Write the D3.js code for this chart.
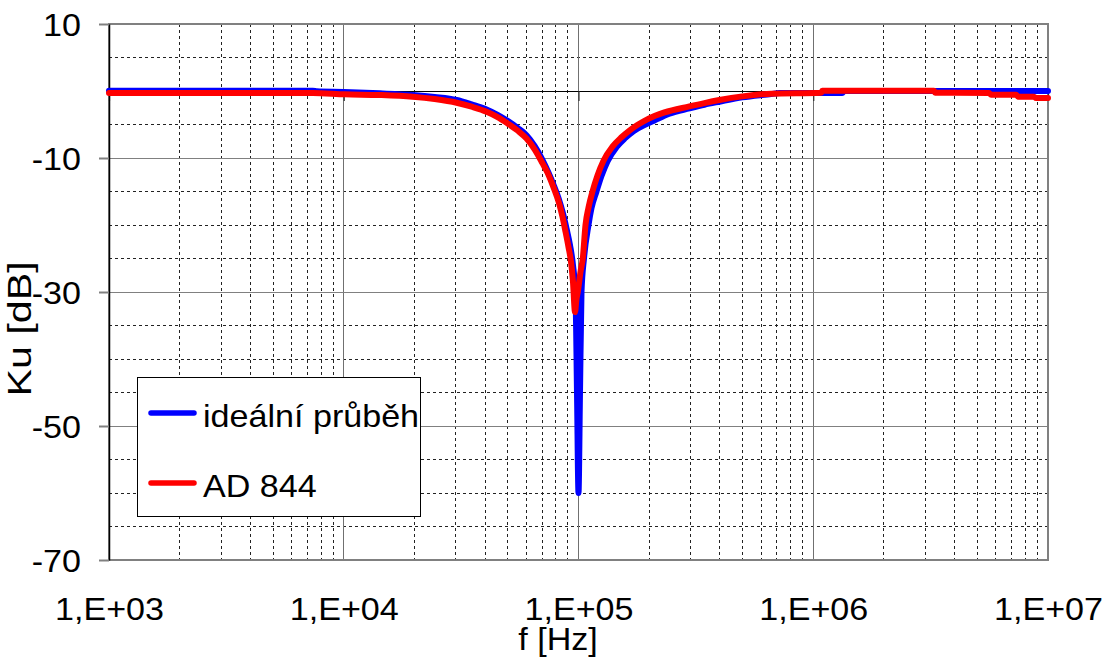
<!DOCTYPE html>
<html>
<head>
<meta charset="utf-8">
<script src="https://cdn.jsdelivr.net/npm/d3@7/dist/d3.min.js"></script>
<style>
  html, body { margin: 0; padding: 0; background: #fff; }
  svg { display: block; font-family: "Liberation Sans", Arial, sans-serif; }
</style>
</head>
<body>
<svg id="chart" width="1106" height="658"></svg>
<script>
// Frequency response of the notch filter: ideal curve vs. AD 844 measurement
const decadeTicks = [1e3, 1e4, 1e5, 1e6, 1e7];
const decadeLabels = ["1,E+03", "1,E+04", "1,E+05", "1,E+06", "1,E+07"];
const dbTicks = [10, -10, -30, -50, -70];
const seriesNames = ["ideální průběh", "AD 844"];

const idealFreq = [1000, 7380, 7680, 10000, 14230, 19660, 24390, 30260, 35050, 40600,
  45220, 49880, 55010, 60060, 65000, 70290, 74530, 78290, 82220, 85480,
  88890, 91990, 94750, 97100, 98540, 100000, 101480, 102990, 105530, 110300,
  113580, 119300, 125250, 132860, 145100, 158500, 171400, 190900, 210600, 243900,
  296760, 343800, 398110, 498800, 662700, 716700, 1081500, 1328700, 1355000, 10000000];
const idealDb = [0.05, 0.05, -0.05, -0.15, -0.35, -0.6, -0.9, -1.35, -2.0, -2.75,
  -3.55, -4.45, -5.5, -6.6, -8.2, -10.3, -12.2, -14.0, -16.0, -18.0,
  -20.5, -23, -26, -30.5, -45, -60, -45, -30, -25, -20,
  -17.5, -15, -12.7, -10.5, -8.4, -7.0, -6.0, -5.1, -4.4, -3.4,
  -2.6, -2.05, -1.6, -0.95, -0.45, -0.3, -0.3, -0.3, 0, 0];

const adFreq = [1000, 7380, 10100, 14230, 19660, 24390, 30260, 35050, 40600, 45220,
  49880, 55010, 60060, 65000, 70290, 73810, 77530, 80620, 83030, 85480,
  88050, 90660, 92910, 94750, 96630, 98060, 99310, 101980, 104300, 107100,
  110300, 114700, 120470, 127770, 139540, 152410, 164800, 178780, 197170, 232300,
  296760, 343800, 398110, 498800, 662700, 1081500, 1092000, 3272000, 3304000, 5609000,
  5721000, 7309000, 7455000, 8719000, 8889000, 10000000];
const adDb = [-0.3, -0.3, -0.5, -0.6, -0.85, -1.2, -1.75, -2.35, -3.1, -3.9,
  -4.85, -5.9, -7.1, -8.7, -10.8, -12.2, -14.0, -15.6, -17.0, -18.8,
  -21, -23.3, -25.5, -28.5, -33, -31, -30, -27, -25, -20,
  -17.4, -15, -12.6, -10.4, -8.3, -6.9, -5.9, -5.05, -4.2, -3.2,
  -2.3, -1.8, -1.35, -0.8, -0.4, -0.25, 0.03, 0.03, -0.25, -0.3,
  -0.55, -0.55, -0.85, -0.85, -1.05, -1.05];

const L = 109, R = 1048, T = 24, B = 560;
const FONT = 31, SX = 1.1;

const svg = d3.select("#chart");
const x = d3.scaleLog().domain([1e3, 1e7]).range([L, R]);
const y = d3.scaleLinear().domain([-70, 10]).range([B, T]);

// minor grid (dashed)
const minorF = [];
decadeTicks.slice(0, -1).forEach(d => { for (let k = 2; k <= 9; k++) minorF.push(k * d); });
const minorDb = d3.range(-65, 10, 5).filter(v => !dbTicks.includes(v) && v !== 0);

const grid = svg.append("g").attr("shape-rendering", "crispEdges");
grid.selectAll("line.vmin").data(minorF).join("line")
  .attr("x1", d => x(d)).attr("x2", d => x(d)).attr("y1", T).attr("y2", B)
  .attr("stroke", "#222").attr("stroke-width", 1).attr("stroke-dasharray", "3,3");
grid.selectAll("line.hmin").data(minorDb).join("line")
  .attr("x1", L).attr("x2", R).attr("y1", d => y(d)).attr("y2", d => y(d))
  .attr("stroke", "#222").attr("stroke-width", 1).attr("stroke-dasharray", "3,3");

// major grid (solid gray)
grid.selectAll("line.vmaj").data(decadeTicks.slice(1, -1)).join("line")
  .attr("x1", d => x(d)).attr("x2", d => x(d)).attr("y1", T).attr("y2", B)
  .attr("stroke", "#707070").attr("stroke-width", 1);
grid.selectAll("line.hmaj").data(dbTicks.slice(1, -1)).join("line")
  .attr("x1", L).attr("x2", R).attr("y1", d => y(d)).attr("y2", d => y(d))
  .attr("stroke", "#808080").attr("stroke-width", 1);

// plot frame
svg.append("rect").attr("x", L).attr("y", T).attr("width", R - L).attr("height", B - T)
  .attr("fill", "none").attr("stroke", "#808080").attr("stroke-width", 2);

// frequency axis crossing at 0 dB
const axis0 = svg.append("g").attr("transform", `translate(0,${y(0)})`)
  .call(d3.axisBottom(x).tickValues(decadeTicks).tickSize(10).tickSizeOuter(0).tickFormat(""));
axis0.select(".domain").attr("stroke", "#000").attr("stroke-width", 1.2);
axis0.selectAll(".tick line").attr("stroke", "#333").attr("stroke-width", 1.2);

// decade labels along the bottom
const axisX = svg.append("g").attr("transform", `translate(0,${B})`)
  .call(d3.axisBottom(x).tickValues(decadeTicks).tickSize(0).tickPadding(38)
    .tickFormat((d, i) => decadeLabels[i]));
axisX.select(".domain").remove();
axisX.selectAll("text").attr("font-size", FONT).attr("fill", "#000")
  .attr("font-family", "Liberation Sans, Arial, sans-serif")
  .attr("transform", `scale(${SX},1)`);

// dB axis
const axisY = svg.append("g").attr("transform", `translate(${L},0)`)
  .call(d3.axisLeft(y).tickValues(dbTicks).tickSize(10).tickSizeOuter(0).tickPadding(18)
    .tickFormat(d => String(d)));
axisY.select(".domain").attr("stroke", "#000").attr("stroke-width", 1.5);
axisY.selectAll(".tick line").attr("stroke", "#808080").attr("stroke-width", 2);
axisY.selectAll("text").each(function () {
  const t = d3.select(this);
  const tx = +t.attr("x");
  t.attr("x", 0).attr("dy", "0.36em")
    .attr("transform", `translate(${tx},0) scale(${SX},1)`);
}).attr("font-size", FONT).attr("fill", "#000")
  .attr("font-family", "Liberation Sans, Arial, sans-serif");

// curves
const line = d3.line().x(d => x(d[0])).y(d => y(d[1])).curve(d3.curveMonotoneX);
const idealPts = idealFreq.map((f, i) => [f, idealDb[i]]);
const adPts = adFreq.map((f, i) => [f, adDb[i]]);
const colors = ["#0000ff", "#ff0000"];

svg.append("path").datum(idealPts).attr("d", line)
  .attr("fill", "none").attr("stroke", colors[0]).attr("stroke-width", 6)
  .attr("stroke-linejoin", "round").attr("stroke-linecap", "round");
svg.append("path").datum(adPts).attr("d", line)
  .attr("fill", "none").attr("stroke", colors[1]).attr("stroke-width", 6)
  .attr("stroke-linejoin", "round").attr("stroke-linecap", "round");

// axis titles
svg.append("text").attr("transform", `translate(558,650) scale(${SX},1)`)
  .attr("text-anchor", "middle").attr("font-size", FONT).text("f [Hz]");
svg.append("text").attr("transform", `translate(31,329) rotate(-90) scale(1.33,${SX})`)
  .attr("text-anchor", "middle").attr("font-size", FONT).text("Ku [dB]");

// legend
const lg = svg.append("g");
lg.append("rect").attr("x", 137.5).attr("y", 377.5).attr("width", 283).attr("height", 139)
  .attr("fill", "#fff").attr("stroke", "#000").attr("stroke-width", 1);
const rowsY = [413, 483];
seriesNames.forEach((name, i) => {
  lg.append("line").attr("x1", 151).attr("x2", 194).attr("y1", rowsY[i]).attr("y2", rowsY[i])
    .attr("stroke", colors[i]).attr("stroke-width", 5.5).attr("stroke-linecap", "round");
  lg.append("text").attr("transform", `translate(203,${rowsY[i] + 14}) scale(${SX},1)`)
    .attr("font-size", FONT).text(name);
});
</script>
</body>
</html>
